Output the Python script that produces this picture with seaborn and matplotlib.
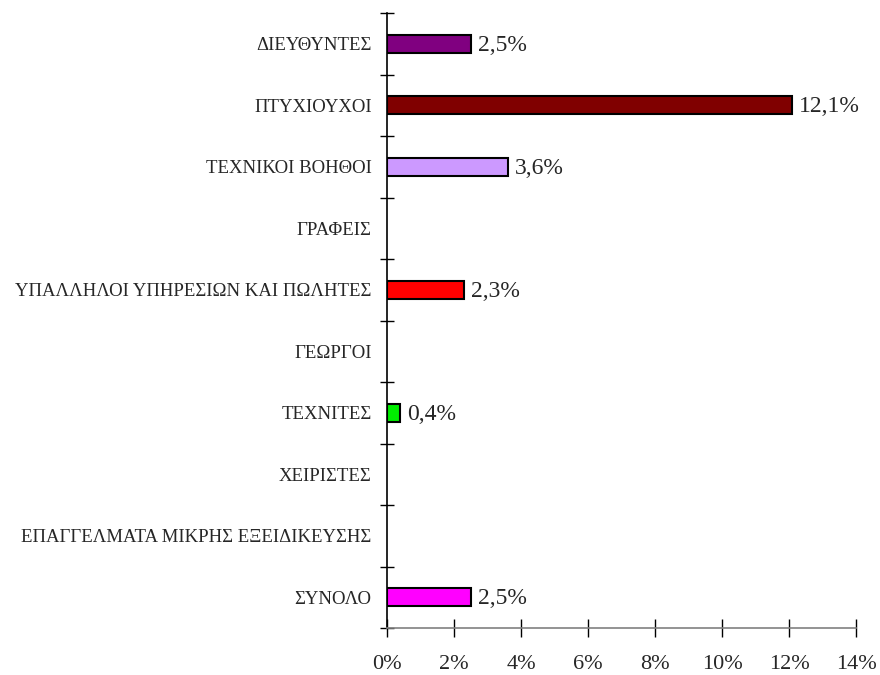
import numpy as np
import pandas as pd
import matplotlib
matplotlib.use("Agg")
import matplotlib.pyplot as plt
import seaborn as sns
from matplotlib.ticker import FixedLocator, FuncFormatter

categories = [
    "ΔΙΕΥΘΥΝΤΕΣ",
    "ΠΤΥΧΙΟΥΧΟΙ",
    "ΤΕΧΝΙΚΟΙ ΒΟΗΘΟΙ",
    "ΓΡΑΦΕΙΣ",
    "ΥΠΑΛΛΗΛΟΙ ΥΠΗΡΕΣΙΩΝ ΚΑΙ ΠΩΛΗΤΕΣ",
    "ΓΕΩΡΓΟΙ",
    "ΤΕΧΝΙΤΕΣ",
    "ΧΕΙΡΙΣΤΕΣ",
    "ΕΠΑΓΓΕΛΜΑΤΑ ΜΙΚΡΗΣ ΕΞΕΙΔΙΚΕΥΣΗΣ",
    "ΣΥΝΟΛΟ",
]
values = [2.5, 12.1, 3.6, np.nan, 2.3, np.nan, 0.4, np.nan, np.nan, 2.5]
colors = ["#800080", "#800000", "#CC99FF", "#FFFFFF", "#FF0000",
          "#FFFFFF", "#00EE00", "#FFFFFF", "#FFFFFF", "#FF00FF"]
xticks = [0, 2, 4, 6, 8, 10, 12, 14]

sns.set_style("white")
plt.rcParams["font.family"] = ["Liberation Serif", "DejaVu Serif"]

df = pd.DataFrame({"cat": categories, "val": values})

fig = plt.figure(figsize=(8.8, 6.75), dpi=100)
ax = fig.add_axes([387 / 880, 1 - 628 / 675, (856 - 387) / 880, (628 - 13) / 675])

sns.barplot(data=df, x="val", y="cat", hue="cat", palette=colors,
            order=categories, hue_order=categories, legend=False,
            width=0.3, edgecolor="black", linewidth=1.5, saturation=1,
            ax=ax, dodge=False)

ax.set_xlim(0, 14)
ax.set_ylim(len(categories) - 0.5, -0.5)
ax.set_xlabel("")
ax.set_ylabel("")

ax.xaxis.set_major_locator(FixedLocator(xticks))
ax.xaxis.set_major_formatter(FuncFormatter(lambda v, p: f"{v:.0f}%"))
ax.tick_params(axis="x", direction="inout", length=13, width=1,
               color="black", labelsize=16, pad=13, bottom=True)

ax.set_yticks(range(len(categories)))
ax.set_yticklabels(categories, fontsize=13.5)
ax.tick_params(axis="y", which="major", length=0, pad=11, left=True)
ax.yaxis.set_minor_locator(FixedLocator(np.arange(-0.5, len(categories), 1.0)))
ax.tick_params(axis="y", which="minor", direction="inout", length=9.5,
               width=1, color="black", left=True)

for s in ["top", "right"]:
    ax.spines[s].set_visible(False)
ax.spines["left"].set_color("black")
ax.spines["left"].set_linewidth(1.2)
ax.spines["bottom"].set_color("#808080")
ax.spines["bottom"].set_linewidth(1.2)

for i, v in enumerate(values):
    if not np.isnan(v):
        ax.annotate(f"{v:.1f}%".replace(".", ","), xy=(v, i),
                    xytext=(5, -1), textcoords="offset points",
                    ha="left", va="center", fontsize=17)

fig.savefig("out.png", dpi=100, facecolor="white")
